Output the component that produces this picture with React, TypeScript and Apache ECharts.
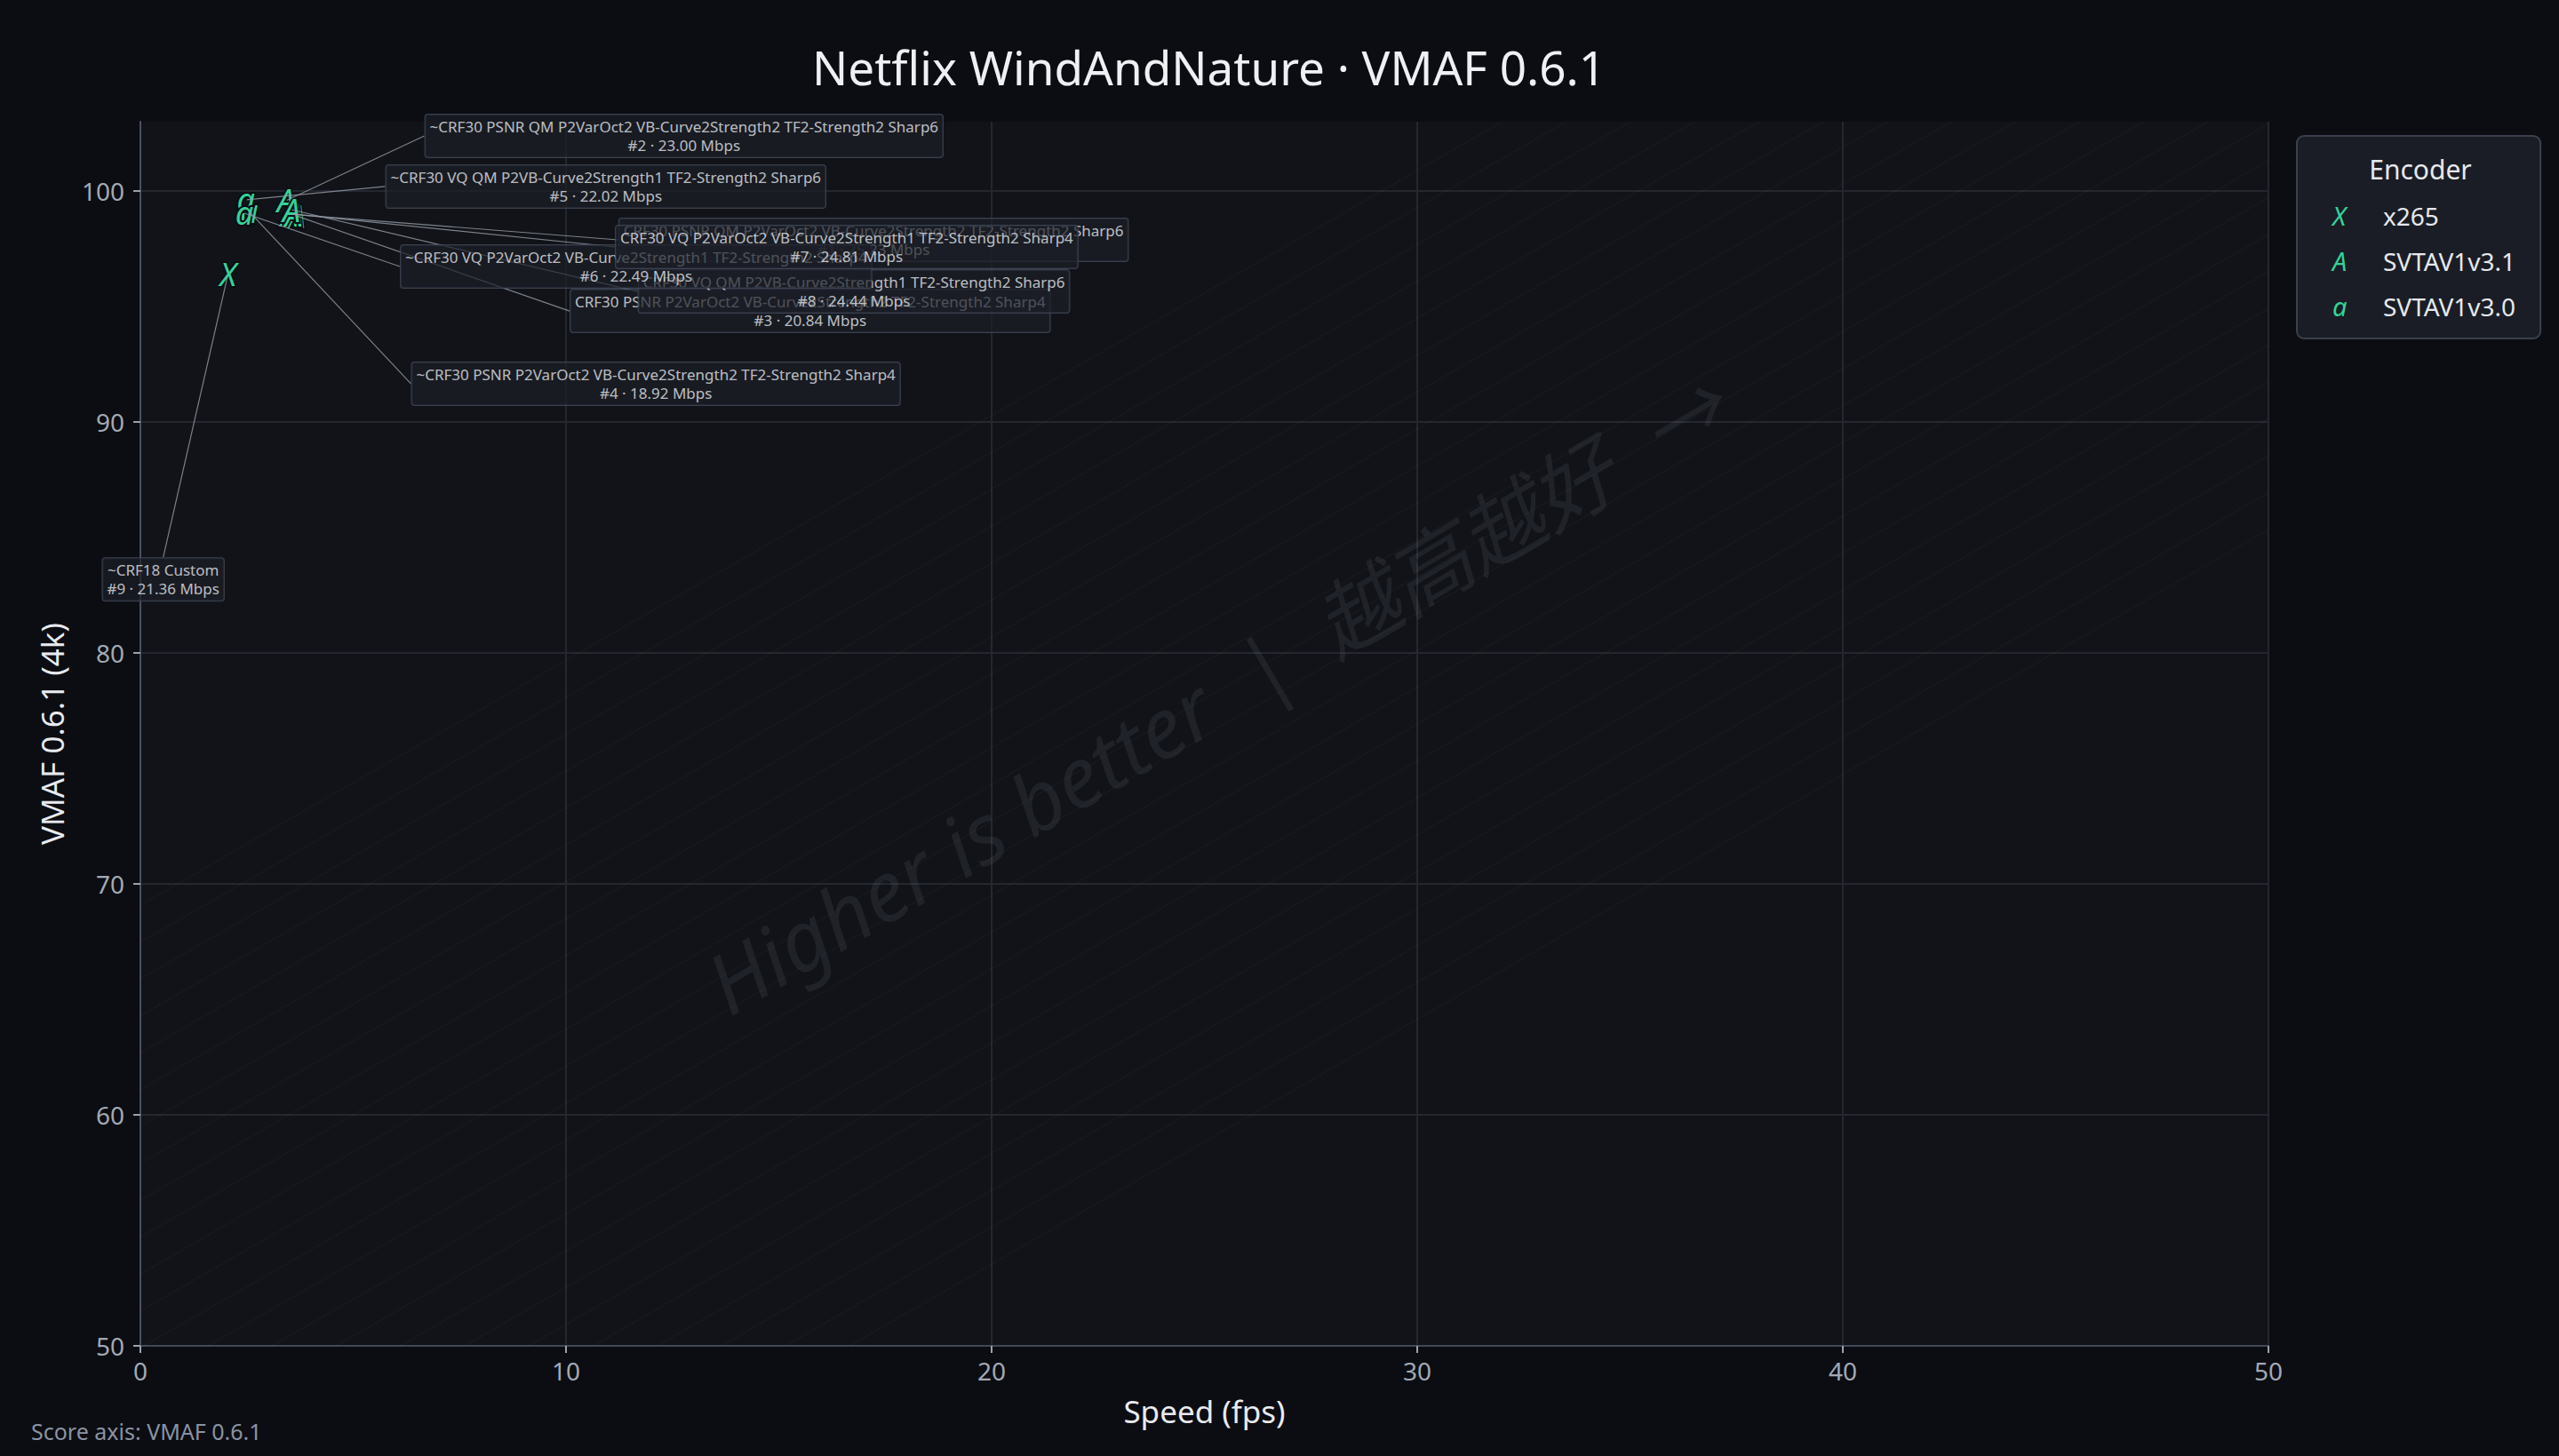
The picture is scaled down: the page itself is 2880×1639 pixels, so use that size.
import React, { useEffect, useRef } from 'react';
import * as echarts from 'echarts';

// ---------- data ----------
const encoderNames = ['x265', 'SVTAV1v3.1', 'SVTAV1v3.0'];
const encoderGlyphs = ['X', 'A', 'a'];

const pointIds = [1, 2, 3, 4, 5, 6, 7, 8, 9];
const pointEncoders = [
  'SVTAV1v3.1', 'SVTAV1v3.1', 'SVTAV1v3.1', 'SVTAV1v3.0', 'SVTAV1v3.0',
  'SVTAV1v3.0', 'SVTAV1v3.1', 'SVTAV1v3.1', 'x265',
];
const speedFps = [3.51, 3.42, 3.67, 2.55, 2.48, 2.44, 3.61, 3.55, 2.06];
const vmafScores = [99.0, 99.58, 98.92, 99.12, 99.62, 99.04, 99.0, 99.19, 96.41];
const bitrateMbps = [25.23, 23.0, 20.84, 18.92, 22.02, 22.49, 24.81, 24.44, 21.36];
const configNames = [
  'CRF30 PSNR QM P2VarOct2 VB-Curve2Strength2 TF2-Strength2 Sharp6',
  '~CRF30 PSNR QM P2VarOct2 VB-Curve2Strength2 TF2-Strength2 Sharp6',
  'CRF30 PSNR P2VarOct2 VB-Curve2Strength2 TF2-Strength2 Sharp4',
  '~CRF30 PSNR P2VarOct2 VB-Curve2Strength2 TF2-Strength2 Sharp4',
  '~CRF30 VQ QM P2VB-Curve2Strength1 TF2-Strength2 Sharp6',
  '~CRF30 VQ P2VarOct2 VB-Curve2Strength1 TF2-Strength2 Sharp4',
  'CRF30 VQ P2VarOct2 VB-Curve2Strength1 TF2-Strength2 Sharp4',
  'CRF30 VQ QM P2VB-Curve2Strength1 TF2-Strength2 Sharp6',
  '~CRF18 Custom',
];

// label placement (pixel offsets from each point), kept apart from the data
const labelOffsetX = [657, 448, 578, 458, 405, 441, 622, 633, -73];
const labelOffsetY = [29, -73, 107, 194, -15, 60, 37, 92, 344];
const labelStackOrder = [9, 4, 5, 2, 1, 3, 8, 6, 7];

const xTickValues = [0, 10, 20, 30, 40, 50];
const yTickValues = [50, 60, 70, 80, 90, 100];

// ---------- layout / style ----------
const W = 2880;
const H = 1639;
const PLOT = { left: 158, right: 2553, top: 137, bottom: 1515 };
const GREEN = '#34d399';
const PAGE_BG = '#0b0d12';
const PLOT_BG = '#111318';
const FONT = '"Noto Sans", "Noto Sans CJK SC", sans-serif';

function clipToRect(px: number, py: number, dx: number, dy: number) {
  let t0 = -1e9;
  let t1 = 1e9;
  const checks: [number, number, number, number][] = [
    [px, dx, PLOT.left, PLOT.right],
    [py, dy, PLOT.top, PLOT.bottom],
  ];
  for (const [p, d, lo, hi] of checks) {
    if (Math.abs(d) < 1e-9) {
      if (p < lo || p > hi) return null;
    } else {
      let a = (lo - p) / d;
      let b = (hi - p) / d;
      if (a > b) [a, b] = [b, a];
      t0 = Math.max(t0, a);
      t1 = Math.min(t1, b);
    }
  }
  if (t0 >= t1) return null;
  return { x1: px + dx * t0, y1: py + dy * t0, x2: px + dx * t1, y2: py + dy * t1 };
}

function hatchLines() {
  const a = PLOT.right - PLOT.left;
  const b = PLOT.bottom - PLOT.top;
  const L = Math.hypot(a, b);
  const dx = a / L;
  const dy = -b / L;
  const nx = b / L;
  const ny = a / L;
  const cx = (PLOT.left + PLOT.right) / 2;
  const cy = (PLOT.top + PLOT.bottom) / 2;
  const out: any[] = [];
  for (let s = -430; s <= 430; s += 36) {
    const seg = clipToRect(cx + nx * s, cy + ny * s, dx, dy);
    if (!seg) continue;
    out.push({
      type: 'line',
      silent: true,
      z: 1,
      shape: seg,
      style: { stroke: 'rgba(255,255,255,0.028)', lineWidth: 1.5 },
    });
  }
  return out;
}

function glyphSeries(encIdx: number) {
  const name = encoderNames[encIdx];
  const glyph = encoderGlyphs[encIdx];
  const data = pointIds
    .map((_, i) => i)
    .filter((i) => pointEncoders[i] === name)
    .map((i) => [speedFps[i], vmafScores[i]]);
  return {
    type: 'custom',
    name,
    data,
    z: 3,
    renderItem: (_params: any, api: any) => {
      const p = api.coord([api.value(0), api.value(1)]);
      const font = `italic 36px ${FONT}`;
      return {
        type: 'group',
        children: [
          {
            type: 'text',
            x: p[0],
            y: p[1],
            style: {
              text: glyph, font, fill: PAGE_BG, stroke: PAGE_BG, lineWidth: 4,
              align: 'center', verticalAlign: 'middle',
            },
          },
          {
            type: 'text',
            x: p[0],
            y: p[1],
            style: { text: glyph, font, fill: GREEN, align: 'center', verticalAlign: 'middle' },
          },
        ],
      };
    },
  };
}

function buildOption() {
  const labelData = labelStackOrder.map((id) => {
    const i = id - 1;
    return { value: [speedFps[i], vmafScores[i]] };
  });

  return {
    animation: false,
    backgroundColor: PAGE_BG,
    textStyle: { fontFamily: FONT },
    title: {
      text: 'Netflix WindAndNature · VMAF 0.6.1',
      left: (PLOT.left + PLOT.right) / 2,
      top: 44,
      textAlign: 'center',
      textStyle: { color: '#eef0f3', fontSize: 53, fontWeight: 'normal', fontFamily: FONT },
    },
    grid: {
      left: PLOT.left,
      right: W - PLOT.right,
      top: PLOT.top,
      bottom: H - PLOT.bottom,
      show: true,
      backgroundColor: PLOT_BG,
      borderWidth: 0,
      containLabel: false,
    },
    xAxis: {
      type: 'value',
      min: 0,
      max: 50,
      interval: 10,
      name: 'Speed (fps)',
      nameLocation: 'middle',
      nameGap: 56,
      nameTextStyle: { color: '#e8eaee', fontSize: 35, fontFamily: FONT },
      axisLine: { show: true, lineStyle: { color: '#424857', width: 2 } },
      axisTick: { show: true, length: 8, lineStyle: { color: '#9aa1ad', width: 2 } },
      axisLabel: {
        color: '#a3a9b5', fontSize: 28, margin: 14, fontFamily: FONT,
        formatter: (v: number) => (xTickValues.indexOf(v) >= 0 ? String(v) : ''),
      },
      splitLine: { show: true, lineStyle: { color: '#24272f', width: 2 } },
    },
    yAxis: {
      type: 'value',
      min: 50,
      max: 103,
      interval: 10,
      name: 'VMAF 0.6.1 (4k)',
      nameLocation: 'middle',
      nameGap: 82,
      nameTextStyle: { color: '#e8eaee', fontSize: 35, fontFamily: FONT },
      axisLine: { show: true, lineStyle: { color: '#4a5060', width: 2 } },
      axisTick: {
        show: true, length: 8, lineStyle: { color: '#9aa1ad', width: 2 },
        customValues: yTickValues,
      },
      axisLabel: {
        color: '#a3a9b5', fontSize: 28, margin: 18, fontFamily: FONT,
        customValues: yTickValues,
        formatter: (v: number) => (yTickValues.indexOf(v) >= 0 ? String(v) : ''),
      },
      splitLine: { show: true, lineStyle: { color: '#24272f', width: 2 } },
    },
    legend: {
      data: encoderNames,
      orient: 'vertical',
      left: 2585,
      top: 153,
      padding: [75, 28, 22, 35],
      itemGap: 22,
      itemWidth: 0,
      itemHeight: 0,
      icon: 'none',
      backgroundColor: '#1a1d25',
      borderColor: '#3a404d',
      borderWidth: 2,
      borderRadius: 8,
      selectedMode: false,
      formatter: (name: string) => `{g|${encoderGlyphs[encoderNames.indexOf(name)]}}{n|${name}}`,
      textStyle: {
        rich: {
          g: { color: GREEN, fontSize: 29, fontStyle: 'italic', width: 57, lineHeight: 30, fontFamily: FONT },
          n: { color: '#e6e8ec', fontSize: 28, lineHeight: 30, fontFamily: FONT },
        },
      },
    },
    graphic: [
      ...hatchLines(),
      {
        type: 'text',
        silent: true,
        z: 1,
        x: 1368,
        y: 781,
        rotation: (30.5 * Math.PI) / 180,
        style: {
          text: 'Higher is better  |  越高越好  →',
          font: `italic 94px ${FONT}`,
          fill: 'rgba(210,215,225,0.08)',
          align: 'center',
          verticalAlign: 'middle',
        },
      },
      {
        type: 'text',
        z: 10,
        x: 2724,
        y: 190,
        style: {
          text: 'Encoder',
          font: `30px ${FONT}`,
          fill: '#e6e8ec',
          align: 'center',
          verticalAlign: 'middle',
        },
      },
      {
        type: 'text',
        z: 10,
        x: 35,
        y: 1611,
        style: {
          text: 'Score axis: VMAF 0.6.1',
          font: `25px ${FONT}`,
          fill: '#8b93a3',
          align: 'left',
          verticalAlign: 'middle',
        },
      },
    ],
    series: [
      glyphSeries(0),
      glyphSeries(1),
      glyphSeries(2),
      {
        type: 'scatter',
        name: 'annotations',
        z: 5,
        silent: true,
        symbol: 'circle',
        symbolSize: 2,
        itemStyle: { color: 'rgba(0,0,0,0)' },
        data: labelData,
        label: {
          show: true,
          position: 'inside',
          formatter: (p: any) => {
            const i = labelStackOrder[p.dataIndex] - 1;
            return `${configNames[i]}\n#${pointIds[i]} · ${bitrateMbps[i].toFixed(2)} Mbps`;
          },
          color: '#e7e9ee',
          fontSize: 17,
          lineHeight: 21,
          fontFamily: FONT,
          align: 'center',
          backgroundColor: 'rgba(27,31,40,0.86)',
          borderColor: 'rgba(70,78,94,0.95)',
          borderWidth: 1,
          borderRadius: 3,
          padding: [3, 5, 3, 5],
        },
        labelLine: {
          show: true,
          lineStyle: { color: 'rgba(150,156,168,0.8)', width: 1.2 },
        },
        labelLayout: (params: any) => {
          const i = labelStackOrder[params.dataIndex] - 1;
          return { dx: labelOffsetX[i], dy: labelOffsetY[i] };
        },
      },
    ],
  };
}

export default function App() {
  const ref = useRef<HTMLDivElement>(null);
  useEffect(() => {
    document.body.style.margin = '0';
    document.body.style.background = PAGE_BG;
    if (!ref.current) return;
    const chart = echarts.init(ref.current, null, { renderer: 'svg' });
    chart.setOption(buildOption() as any);
    return () => chart.dispose();
  }, []);
  return <div ref={ref} style={{ width: W, height: H, background: PAGE_BG }} />;
}
